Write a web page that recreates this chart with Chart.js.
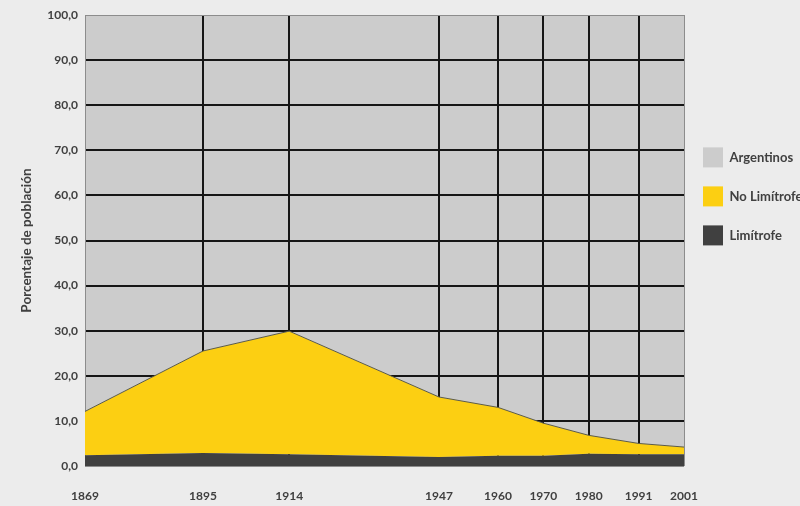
<!DOCTYPE html>
<html>
<head>
<meta charset="utf-8">
<script src="https://cdn.jsdelivr.net/npm/chart.js@4.4.1/dist/chart.umd.min.js"></script>
<style>
  body { margin: 0; background: #ececec; }
  canvas { display: block; }
</style>
</head>
<body>
<canvas id="chart" width="800" height="506"></canvas>
<script>
const YEARS = [1869, 1895, 1914, 1947, 1960, 1970, 1980, 1991, 2001];
const LIMITROFE = [2.4, 2.9, 2.6, 2.0, 2.3, 2.3, 2.7, 2.6, 2.6];
const NO_LIMITROFE = [9.7, 22.6, 27.3, 13.3, 10.7, 7.2, 4.1, 2.4, 1.6];
const ARGENTINOS = [87.9, 74.5, 70.1, 84.7, 87.0, 90.5, 93.2, 95.0, 95.8];

const TEXT = '#404040';
const FONT = { family: 'Lato', weight: 'bold', size: 12 };

function toPoints(values) {
  return values.map((v, i) => ({ x: YEARS[i], y: v }));
}

// gridlines show over the grey (Argentinos) area but under the yellow one
const gridOverArgentinos = {
  id: 'gridOverArgentinos',
  afterDatasetDraw(chart, args) {
    if (args.index !== 2) return;
    chart.scales.x.drawGrid(chart.chartArea);
    chart.scales.y.drawGrid(chart.chartArea);
  },
};

function edgeColor(ctx, last) {
  return ctx.index === 0 || ctx.index === last ? '#8c8c8c' : '#151515';
}
function edgeWidth(ctx, last) {
  return ctx.index === 0 || ctx.index === last ? 1 : 2;
}

new Chart(document.getElementById('chart'), {
  type: 'line',
  data: {
    datasets: [
      {
        label: 'Limítrofe',
        data: toPoints(LIMITROFE),
        backgroundColor: '#404040',
        borderColor: '#404040',
        borderWidth: 0,
        fill: 'origin',
      },
      {
        label: 'No Limítrofe',
        data: toPoints(NO_LIMITROFE),
        backgroundColor: '#fccf12',
        borderColor: '#5a5a4a',
        borderWidth: 1,
        fill: '-1',
      },
      {
        label: 'Argentinos',
        data: toPoints(ARGENTINOS),
        backgroundColor: '#cccccc',
        borderColor: '#cccccc',
        borderWidth: 0,
        fill: '-1',
      },
    ],
  },
  options: {
    responsive: false,
    animation: false,
    devicePixelRatio: 1,
    elements: { point: { radius: 0 }, line: { tension: 0 } },
    layout: { padding: { top: 15, left: 0, right: 0, bottom: 0 } },
    plugins: {
      tooltip: { enabled: false },
      legend: {
        position: 'right',
        align: 'start',
        reverse: true,
        maxWidth: 116,
        title: { display: true, text: '', font: { size: 12 }, padding: { top: 99, bottom: 0 } },
        labels: {
          boxWidth: 20,
          boxHeight: 20,
          padding: 19,
          color: TEXT,
          font: { family: 'Lato', weight: 'bold', size: 13 },
          generateLabels: (chart) =>
            Chart.defaults.plugins.legend.labels.generateLabels(chart).map((item) => ({
              ...item,
              lineWidth: 0,
              strokeStyle: item.fillStyle,
            })),
        },
      },
    },
    scales: {
      x: {
        type: 'linear',
        min: 1869,
        max: 2001,
        afterBuildTicks: (axis) => {
          axis.ticks = YEARS.map((v) => ({ value: v }));
        },
        afterFit: (axis) => {
          axis.height = 40;
        },
        grid: {
          drawTicks: false,
          color: (ctx) => edgeColor(ctx, YEARS.length - 1),
          lineWidth: (ctx) => edgeWidth(ctx, YEARS.length - 1),
        },
        border: { display: false },
        ticks: {
          autoSkip: false,
          maxRotation: 0,
          padding: 23,
          color: TEXT,
          font: FONT,
          callback: (v) => String(v),
        },
      },
      y: {
        stacked: true,
        min: 0,
        max: 100,
        afterFit: (axis) => {
          axis.width = 85;
        },
        grid: {
          drawTicks: false,
          color: (ctx) => edgeColor(ctx, 10),
          lineWidth: (ctx) => edgeWidth(ctx, 10),
        },
        border: { color: '#8c8c8c', width: 1 },
        ticks: {
          stepSize: 10,
          padding: 7,
          color: TEXT,
          font: FONT,
          callback: (v) => v.toFixed(1).replace('.', ','),
        },
        title: {
          display: true,
          text: 'Porcentaje de población',
          color: TEXT,
          font: { family: 'Lato', weight: 'bold', size: 13.5 },
          padding: { top: 19, bottom: 0 },
        },
      },
    },
  },
  plugins: [gridOverArgentinos],
});
</script>
</body>
</html>
